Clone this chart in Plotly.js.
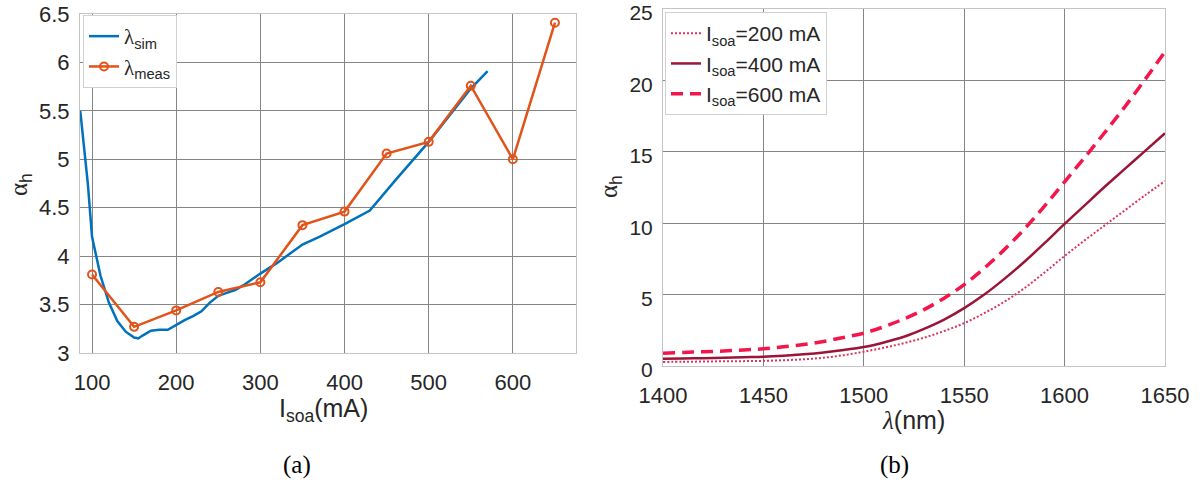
<!DOCTYPE html>
<html>
<head>
<meta charset="utf-8">
<script src="https://cdn.plot.ly/plotly-3.0.1.min.js"></script>
<style>html,body{margin:0;padding:0;background:#fff;}#chart{width:1203px;height:483px;}</style>
</head>
<body>
<div id="chart"></div>
<script>
// ---- Panel (a): alpha_h vs I_soa ----
const simCurrent = [86, 95, 100, 110, 120, 130, 140, 150, 155, 160, 170, 180, 190, 200, 210, 220, 230, 240, 250, 260, 270, 280, 290, 300, 320, 340, 350, 370, 400, 430, 460, 500, 550, 570];
const simAlpha   = [5.5, 4.75, 4.2, 3.8, 3.52, 3.33, 3.22, 3.16, 3.15, 3.18, 3.23, 3.24, 3.24, 3.29, 3.34, 3.38, 3.43, 3.52, 3.59, 3.62, 3.65, 3.70, 3.76, 3.82, 3.93, 4.06, 4.12, 4.20, 4.33, 4.47, 4.78, 5.18, 5.73, 5.91];
const measCurrent = [100, 150, 200, 250, 300, 350, 400, 450, 500, 550, 600, 650];
const measAlpha   = [3.81, 3.27, 3.44, 3.63, 3.73, 4.32, 4.46, 5.06, 5.18, 5.76, 5.0, 6.41];

// ---- Panel (b): alpha_h vs wavelength ----
const wavelength = [1400,1410,1420,1430,1440,1450,1460,1470,1480,1490,1500,1510,1520,1530,1540,1550,1560,1570,1580,1590,1600,1610,1620,1630,1640,1650];
const alpha200 = [0.28,0.30,0.31,0.33,0.34,0.36,0.40,0.47,0.58,0.76,1.00,1.28,1.60,1.98,2.45,3.00,3.70,4.50,5.45,6.55,7.70,8.80,9.85,10.9,11.95,12.95];
const alpha400 = [0.50,0.52,0.55,0.58,0.62,0.65,0.72,0.82,0.95,1.12,1.33,1.65,2.05,2.60,3.25,4.05,5.00,6.10,7.30,8.60,9.95,11.25,12.55,13.8,15.05,16.3];
const alpha600 = [0.90,0.95,1.00,1.05,1.12,1.20,1.35,1.50,1.72,2.00,2.30,2.75,3.30,3.95,4.75,5.70,6.85,8.15,9.60,11.2,12.9,14.6,16.35,18.15,20.05,22.0];

const lam = '<span style="font-family:Liberation Serif">λ</span>';
const legendNames = [lam + '<sub>sim</sub>', lam + '<sub>meas</sub>', 'I<sub>soa</sub>=200 mA', 'I<sub>soa</sub>=400 mA', 'I<sub>soa</sub>=600 mA'];
const xTitleA = 'I<sub>soa</sub>(mA)';
const xTitleB = '<span style="font-family:Liberation Serif"><i>λ</i></span>(nm)';
const yTitle = '<span style="font-family:Liberation Serif">α</span><sub>h</sub>';

const W = 1203, H = 483;
const px = v => v / W;
const py = v => 1 - v / H;

const traces = [
  {x: simCurrent, y: simAlpha, type: 'scatter', mode: 'lines', name: legendNames[0],
   line: {color: '#0072BD', width: 2.5}, xaxis: 'x', yaxis: 'y', legend: 'legend'},
  {x: measCurrent, y: measAlpha, type: 'scatter', mode: 'lines+markers', name: legendNames[1],
   line: {color: '#E2531A', width: 2.5},
   marker: {symbol: 'circle-open', size: 8, color: '#E2531A', line: {width: 2}},
   xaxis: 'x', yaxis: 'y', legend: 'legend'},
  {x: wavelength, y: alpha200, type: 'scatter', mode: 'lines', name: legendNames[2],
   line: {color: '#D8365C', width: 2, dash: '2px,2px', shape: 'spline'}, xaxis: 'x2', yaxis: 'y2', legend: 'legend2'},
  {x: wavelength, y: alpha400, type: 'scatter', mode: 'lines', name: legendNames[3],
   line: {color: '#9A1538', width: 2.5, shape: 'spline'}, xaxis: 'x2', yaxis: 'y2', legend: 'legend2'},
  {x: wavelength, y: alpha600, type: 'scatter', mode: 'lines', name: legendNames[4],
   line: {color: '#F4164A', width: 3.5, dash: '12px,7px', shape: 'spline'}, xaxis: 'x2', yaxis: 'y2', legend: 'legend2'}
];

const tickFont = {family: 'Liberation Sans, Arial, sans-serif', size: 22, color: '#262626'};
const axisBase = {
  showgrid: true, gridcolor: '#858585', gridwidth: 1,
  showline: true, linecolor: '#c4c4c4', linewidth: 1, mirror: true,
  zeroline: false, ticks: '', tickfont: tickFont, fixedrange: true,
  ticklabeloverflow: 'allow'
};

const layout = {
  width: W, height: H,
  margin: {l: 0, r: 0, t: 0, b: 0},
  paper_bgcolor: '#ffffff', plot_bgcolor: '#ffffff',
  font: {family: 'Liberation Sans, Arial, sans-serif', color: '#262626'},
  xaxis: Object.assign({}, axisBase, {domain: [px(80), px(576)], range: [85.7, 675], tickvals: [100,200,300,400,500,600], ticklabelstandoff: 10, anchor: 'y'}),
  yaxis: Object.assign({}, axisBase, {domain: [py(353), py(14)], range: [2.9999, 6.5001], dtick: 0.5, tick0: 3, ticklabelstandoff: 5, anchor: 'x'}),
  xaxis2: Object.assign({}, axisBase, {domain: [px(663), px(1165)], range: [1399.99, 1650.01], dtick: 50, tick0: 1400, ticklabelstandoff: 10, anchor: 'y2'}),
  yaxis2: Object.assign({}, axisBase, {domain: [py(366), py(9)], range: [-0.0005, 25.0005], dtick: 5, tick0: 0, ticklabelstandoff: 5, ticklabelshift: 4, tickfont: {family: 'Liberation Sans, Arial, sans-serif', size: 21, color: '#262626'}, anchor: 'x2'}),
  legend: {x: px(83), y: py(15), xanchor: 'left', yanchor: 'top', bgcolor: '#ffffff',
           bordercolor: '#d0d0d0', borderwidth: 1, font: {size: 21, color: '#262626'}, tracegroupgap: 0, itemwidth: 30},
  legend2: {x: px(665), y: py(12), xanchor: 'left', yanchor: 'top', bgcolor: '#ffffff',
           bordercolor: '#d0d0d0', borderwidth: 1, font: {size: 21, color: '#262626'}, tracegroupgap: 0, itemwidth: 30},
  showlegend: true,
  annotations: [
    {text: xTitleA, xref: 'paper', yref: 'paper', x: px(323), y: py(410), xanchor: 'center', yanchor: 'middle', showarrow: false, font: {size: 25, color: '#262626'}},
    {text: xTitleB, xref: 'paper', yref: 'paper', x: px(913), y: py(420), xanchor: 'center', yanchor: 'middle', showarrow: false, font: {size: 25, color: '#262626'}},
    {text: yTitle, xref: 'paper', yref: 'paper', x: px(20), y: py(185), xanchor: 'center', yanchor: 'middle', showarrow: false, textangle: -90, font: {size: 25, color: '#262626'}},
    {text: yTitle, xref: 'paper', yref: 'paper', x: px(610), y: py(187), xanchor: 'center', yanchor: 'middle', showarrow: false, textangle: -90, font: {size: 25, color: '#262626'}},
    {text: '(a)', xref: 'paper', yref: 'paper', x: px(297), y: py(465), xanchor: 'center', yanchor: 'middle', showarrow: false, font: {family: 'Liberation Serif, Times New Roman, serif', size: 25, color: '#000000'}},
    {text: '(b)', xref: 'paper', yref: 'paper', x: px(894), y: py(465), xanchor: 'center', yanchor: 'middle', showarrow: false, font: {family: 'Liberation Serif, Times New Roman, serif', size: 25, color: '#000000'}}
  ]
};

Plotly.newPlot('chart', traces, layout, {staticPlot: true, displayModeBar: false});
</script>
</body>
</html>
